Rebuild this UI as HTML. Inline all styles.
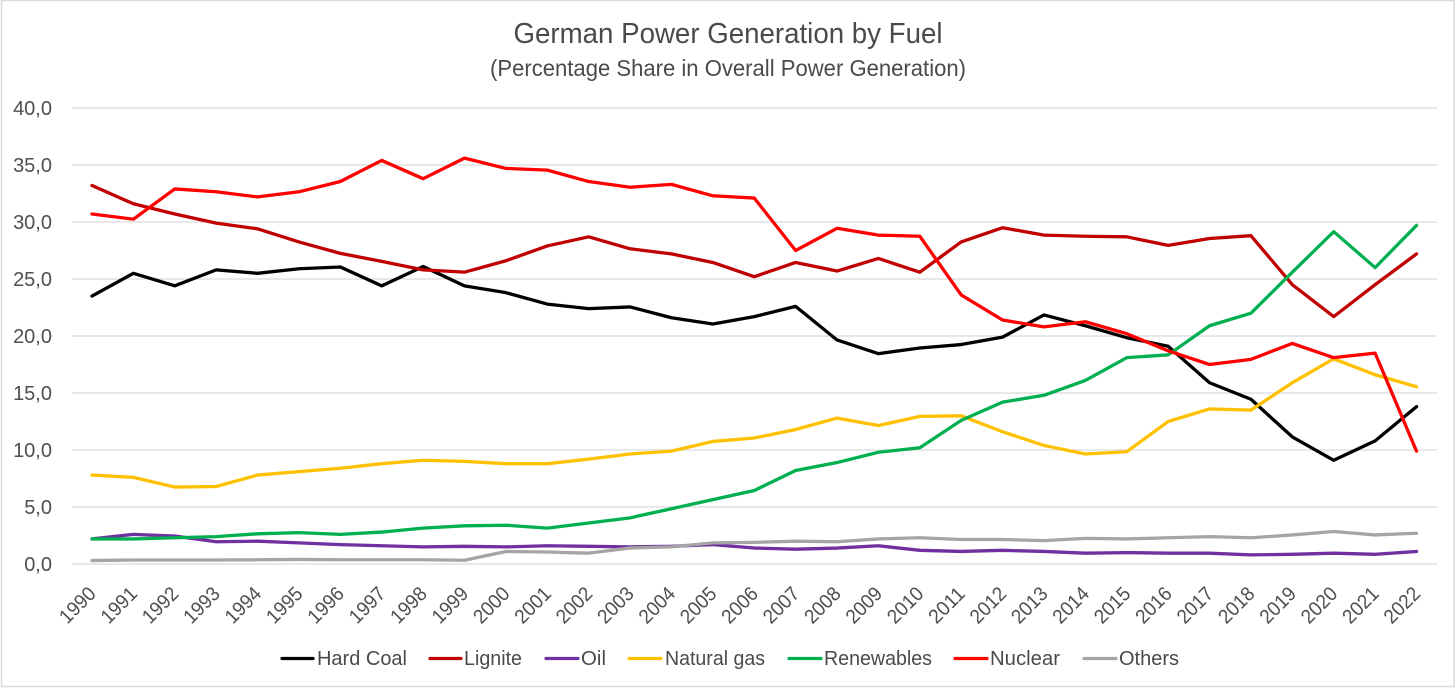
<!DOCTYPE html>
<html lang="en">
<head>
<meta charset="utf-8">
<title>German Power Generation by Fuel</title>
<style>
html,body{margin:0;padding:0;background:#fff;width:1456px;height:690px;overflow:hidden}
svg{display:block;font-family:"Liberation Sans",sans-serif;fill:#4f4f4f}
</style>
</head>
<body>
<svg id="chart" width="1456" height="690" viewBox="0 0 1456 690" xmlns="http://www.w3.org/2000/svg">
  <rect x="1.5" y="0.5" width="1452.5" height="686" fill="#fff" stroke="#d9d9d9" stroke-width="1.5"/>
  <text x="728" y="43" text-anchor="middle" font-size="29" textLength="429" lengthAdjust="spacingAndGlyphs" style="fill:#4a4a4a">German Power Generation by Fuel</text>
  <text x="728" y="76" text-anchor="middle" font-size="23" textLength="476" lengthAdjust="spacingAndGlyphs" style="fill:#4a4a4a">(Percentage Share in Overall Power Generation)</text>
  <g id="grid"></g>
  <g id="yaxis"></g>
  <g id="xaxis"></g>
  <g id="lines"></g>
  <g font-size="20" style="fill:#4a4a4a">
    <g>
      <line x1="282" x2="313" y1="658.5" y2="658.5" stroke="#000000" stroke-width="3.2" stroke-linecap="round"/>
      <text x="317" y="665" textLength="90" lengthAdjust="spacingAndGlyphs">Hard Coal</text>
    </g>
    <g>
      <line x1="430" x2="461" y1="658.5" y2="658.5" stroke="#c00000" stroke-width="3.2" stroke-linecap="round"/>
      <text x="464" y="665" textLength="58" lengthAdjust="spacingAndGlyphs">Lignite</text>
    </g>
    <g>
      <line x1="546" x2="578" y1="658.5" y2="658.5" stroke="#7030a0" stroke-width="3.2" stroke-linecap="round"/>
      <text x="581" y="665" textLength="25" lengthAdjust="spacingAndGlyphs">Oil</text>
    </g>
    <g>
      <line x1="629" x2="661" y1="658.5" y2="658.5" stroke="#ffc000" stroke-width="3.2" stroke-linecap="round"/>
      <text x="665" y="665" textLength="100" lengthAdjust="spacingAndGlyphs">Natural gas</text>
    </g>
    <g>
      <line x1="789" x2="821" y1="658.5" y2="658.5" stroke="#00b050" stroke-width="3.2" stroke-linecap="round"/>
      <text x="824" y="665" textLength="108" lengthAdjust="spacingAndGlyphs">Renewables</text>
    </g>
    <g>
      <line x1="955" x2="987" y1="658.5" y2="658.5" stroke="#ff0000" stroke-width="3.2" stroke-linecap="round"/>
      <text x="990" y="665" textLength="70" lengthAdjust="spacingAndGlyphs">Nuclear</text>
    </g>
    <g>
      <line x1="1084" x2="1116" y1="658.5" y2="658.5" stroke="#a5a5a5" stroke-width="3.2" stroke-linecap="round"/>
      <text x="1119" y="665" textLength="60" lengthAdjust="spacingAndGlyphs">Others</text>
    </g>
  </g>
</svg>
<script>
var years = ["1990","1991","1992","1993","1994","1995","1996","1997","1998","1999","2000","2001","2002","2003","2004","2005","2006","2007","2008","2009","2010","2011","2012","2013","2014","2015","2016","2017","2018","2019","2020","2021","2022"];
var yTickLabels = ["0,0","5,0","10,0","15,0","20,0","25,0","30,0","35,0","40,0"];
var yTickValues = [0,5,10,15,20,25,30,35,40];
var hardCoal = [23.5,25.5,24.4,25.8,25.5,25.9,26.05,24.4,26.1,24.4,23.8,22.8,22.4,22.55,21.6,21.05,21.7,22.6,19.65,18.45,18.95,19.25,19.9,21.85,20.9,19.85,19.1,15.9,14.45,11.15,9.1,10.8,13.8];
var lignite = [33.2,31.6,30.7,29.9,29.4,28.25,27.25,26.55,25.8,25.6,26.6,27.9,28.7,27.65,27.2,26.45,25.2,26.45,25.7,26.8,25.6,28.25,29.5,28.85,28.75,28.7,27.95,28.55,28.8,24.5,21.7,24.5,27.2];
var oil = [2.2,2.6,2.45,1.95,2.0,1.85,1.7,1.6,1.5,1.55,1.5,1.6,1.55,1.5,1.55,1.7,1.4,1.3,1.4,1.6,1.2,1.1,1.2,1.1,0.95,1.0,0.95,0.95,0.8,0.85,0.95,0.85,1.1];
var naturalGas = [7.8,7.6,6.75,6.8,7.8,8.1,8.4,8.8,9.1,9.0,8.8,8.8,9.2,9.65,9.9,10.75,11.05,11.8,12.8,12.15,12.95,13.0,11.6,10.4,9.65,9.85,12.5,13.6,13.5,15.9,18.0,16.6,15.55];
var renewables = [2.2,2.2,2.3,2.4,2.65,2.75,2.6,2.8,3.15,3.35,3.4,3.15,3.6,4.05,4.85,5.65,6.45,8.2,8.9,9.8,10.2,12.6,14.2,14.8,16.1,18.1,18.35,20.9,22.0,25.6,29.15,26.0,29.7];
var nuclear = [30.7,30.25,32.9,32.65,32.2,32.65,33.55,35.4,33.8,35.6,34.7,34.55,33.55,33.05,33.3,32.3,32.1,27.5,29.45,28.85,28.75,23.6,21.4,20.8,21.25,20.2,18.7,17.5,17.95,19.35,18.1,18.5,9.9];
var others = [0.3,0.35,0.35,0.35,0.37,0.4,0.37,0.37,0.37,0.33,1.1,1.05,0.95,1.4,1.5,1.85,1.9,2.0,1.95,2.2,2.3,2.15,2.15,2.05,2.25,2.2,2.3,2.4,2.3,2.55,2.85,2.55,2.7];

var NS = 'http://www.w3.org/2000/svg';
function xScale(i){ return 92 + i * (1416.5 - 92) / (years.length - 1); }
function yScale(v){ return 564 - v * (564 - 108) / 40; }

var grid = document.getElementById('grid');
var yaxis = document.getElementById('yaxis');
var xaxis = document.getElementById('xaxis');
var linesGroup = document.getElementById('lines');

yTickValues.forEach(function(v, i){
  var g = document.createElementNS(NS, 'line');
  
  
  g.setAttribute('x1', 72);
  g.setAttribute('x2', 1437);
  g.setAttribute('y1', yScale(v));
  g.setAttribute('y2', yScale(v));
  g.setAttribute('stroke', '#d9d9d9');
  g.setAttribute('stroke-width', '1.2');
  grid.appendChild(g);
  var t = document.createElementNS(NS, 'text');
  
  
  t.setAttribute('x', 52);
  t.setAttribute('y', yScale(v) + 7);
  t.setAttribute('text-anchor', 'end');
  t.setAttribute('font-size', '20');
  t.textContent = yTickLabels[i];
  yaxis.appendChild(t);
});

years.forEach(function(label, i){
  var t = document.createElementNS(NS, 'text');
  
  
  var px = xScale(i) + 5;
  var py = 595;
  t.setAttribute('transform', 'translate(' + px + ' ' + py + ') rotate(-45)');
  t.setAttribute('text-anchor', 'end');
  t.setAttribute('font-size', '20');
  t.setAttribute('textLength', '42');
  t.setAttribute('lengthAdjust', 'spacingAndGlyphs');
  t.textContent = label;
  xaxis.appendChild(t);
});

function drawSeries(values, color, name){
  var p = document.createElementNS(NS, 'polyline');
  
  
  p.setAttribute('points', values.map(function(v, i){ return xScale(i).toFixed(2) + ',' + yScale(v).toFixed(2); }).join(' '));
  p.setAttribute('fill', 'none');
  p.setAttribute('stroke', color);
  p.setAttribute('stroke-width', '3.3');
  p.setAttribute('stroke-linejoin', 'round');
  p.setAttribute('stroke-linecap', 'round');
  linesGroup.appendChild(p);
}
drawSeries(hardCoal, '#000000', 'line-hard-coal');
drawSeries(lignite, '#c00000', 'line-lignite');
drawSeries(oil, '#7030a0', 'line-oil');
drawSeries(naturalGas, '#ffc000', 'line-natural-gas');
drawSeries(renewables, '#00b050', 'line-renewables');
drawSeries(nuclear, '#ff0000', 'line-nuclear');
drawSeries(others, '#a5a5a5', 'line-others');
</script>
</body>
</html>
